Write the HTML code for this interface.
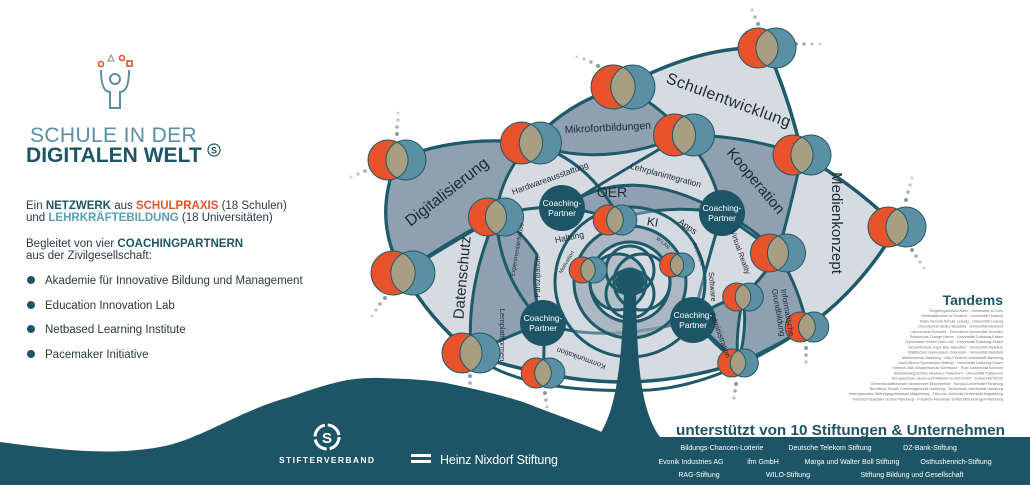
<!DOCTYPE html>
<html><head><meta charset="utf-8"><style>
html,body{margin:0;padding:0;background:#fff;}
body{width:1030px;height:485px;overflow:hidden;font-family:"Liberation Sans",sans-serif;}
</style></head><body>
<svg width="1030" height="485" viewBox="0 0 1030 485" xmlns="http://www.w3.org/2000/svg" font-family="Liberation Sans, sans-serif">
<defs>
<g id="v">
<circle cx="-9" cy="0" r="20" fill="#e8532b" stroke="#1e5a69" stroke-width="1" vector-effect="non-scaling-stroke"/>
<circle cx="9" cy="0" r="20" fill="#5b90a4" stroke="#1e5a69" stroke-width="1" vector-effect="non-scaling-stroke"/>
<path d="M0,-17.9 A20 20 0 0 1 0,17.9 A20 20 0 0 1 0,-17.9Z" fill="#a89e82" stroke="#1e5a69" stroke-width="1" vector-effect="non-scaling-stroke"/>
</g>
<g id="cp">
<circle r="23" fill="#1d5566"/>
<text y="-2" text-anchor="middle" fill="#fff" font-size="8.5">Coaching-</text>
<text y="8" text-anchor="middle" fill="#fff" font-size="8.5">Partner</text>
</g>
</defs>

<!-- logo -->
<g fill="none" stroke="#5a8fa3" stroke-width="2">
<circle cx="115" cy="79" r="5"/>
<path d="M101,70 Q101,92 110,92 L110,108 L120,108 L120,92 Q129,92 129,70"/>
</g>
<g fill="none" stroke="#e8532b" stroke-width="1.6">
<circle cx="101" cy="64" r="2.5"/><circle cx="122" cy="58" r="2.5"/><rect x="127" y="61" width="5" height="5"/>
</g>
<path d="M108,61 L111,55 L114,61Z" fill="none" stroke="#999" stroke-width="1.2"/>

<text x="30" y="142" font-size="21" fill="#5a8fa3" letter-spacing="1.3" textLength="168">SCHULE IN DER</text>
<text x="26" y="162" font-size="21" font-weight="bold" fill="#1d5566" letter-spacing="1.3" textLength="177">DIGITALEN WELT</text>
<circle cx="214" cy="150" r="6" fill="none" stroke="#1d5566" stroke-width="1.2"/>
<text x="214" y="153.5" font-size="9" font-weight="bold" fill="#1d5566" text-anchor="middle">S</text>

<g font-size="11.5" fill="#2a3a40">
<text x="26" y="209">Ein <tspan font-weight="bold" fill="#1d5566">NETZWERK</tspan> aus <tspan font-weight="bold" fill="#e8532b">SCHULPRAXIS</tspan> (18 Schulen)</text>
<text x="26" y="221">und <tspan font-weight="bold" fill="#5a9fb0">LEHRKRÄFTEBILDUNG</tspan> (18 Universitäten)</text>
<text x="26" y="247">Begleitet von vier <tspan font-weight="bold" fill="#1d5566">COACHINGPARTNERN</tspan></text>
<text x="26" y="259">aus der Zivilgesellschaft:</text>
<text x="45" y="284">Akademie für Innovative Bildung und Management</text>
<text x="45" y="309">Education Innovation Lab</text>
<text x="45" y="333">Netbased Learning Institute</text>
<text x="45" y="358">Pacemaker Initiative</text>
</g>
<g fill="#1d5566"><circle cx="31" cy="280" r="4"/><circle cx="31" cy="305" r="4"/><circle cx="31" cy="329" r="4"/><circle cx="31" cy="354" r="4"/></g>

<!-- dots trails -->
<g fill="#8a9aa6">
<circle cx="372" cy="168" r="2"/><circle cx="365" cy="171" r="1.8" opacity=".8"/><circle cx="358" cy="174" r="1.6" opacity=".6"/><circle cx="351" cy="177" r="1.5" opacity=".4"/>
<circle cx="397" cy="134" r="2"/><circle cx="397" cy="127" r="1.8" opacity=".8"/><circle cx="398" cy="120" r="1.6" opacity=".6"/><circle cx="398" cy="113" r="1.5" opacity=".4"/>
<circle cx="385" cy="298" r="2"/><circle cx="380" cy="304" r="1.8" opacity=".8"/><circle cx="376" cy="310" r="1.6" opacity=".6"/><circle cx="372" cy="316" r="1.5" opacity=".4"/>
<circle cx="598" cy="66" r="2"/><circle cx="591" cy="62" r="1.8" opacity=".8"/><circle cx="584" cy="59" r="1.6" opacity=".6"/><circle cx="577" cy="57" r="1.5" opacity=".4"/>
<circle cx="796" cy="44" r="2"/><circle cx="804" cy="44" r="1.8" opacity=".8"/><circle cx="812" cy="44" r="1.6" opacity=".6"/><circle cx="820" cy="44" r="1.5" opacity=".4"/>
<circle cx="758" cy="24" r="2"/><circle cx="755" cy="17" r="1.8" opacity=".7"/><circle cx="752" cy="10" r="1.6" opacity=".5"/>
<circle cx="906" cy="200" r="2"/><circle cx="908" cy="192" r="1.8" opacity=".8"/><circle cx="910" cy="185" r="1.6" opacity=".6"/><circle cx="912" cy="178" r="1.5" opacity=".4"/>
<circle cx="912" cy="250" r="2"/><circle cx="916" cy="256" r="1.8" opacity=".8"/><circle cx="920" cy="262" r="1.6" opacity=".6"/><circle cx="924" cy="268" r="1.5" opacity=".4"/>
<circle cx="806" cy="348" r="2"/><circle cx="806" cy="355" r="1.8" opacity=".8"/><circle cx="806" cy="362" r="1.6" opacity=".6"/>
<circle cx="736" cy="384" r="2"/><circle cx="735" cy="391" r="1.8" opacity=".8"/><circle cx="734" cy="398" r="1.6" opacity=".6"/>
<circle cx="470" cy="376" r="2"/><circle cx="470" cy="383" r="1.8" opacity=".8"/><circle cx="470" cy="390" r="1.6" opacity=".6"/>
<circle cx="545" cy="393" r="2"/><circle cx="546" cy="400" r="1.8" opacity=".8"/><circle cx="547" cy="407" r="1.6" opacity=".6"/>
</g>

<!-- bottom band -->
<path d="M0,442 C60,450 110,456 160,447 C200,440 240,410 290,397 C330,383 350,377 380,378 C410,379 430,380 446,383 C490,392 520,400 536,407 C570,420 600,430 612,437 L1030,437 L1030,485 L0,485 Z" fill="#1d5566"/>

<!-- diagram -->
<path d="M397,160 Q455,135 531,143 Q570,100 623,87 Q700,45 767,48 Q790,100 802,155 Q855,185 897,227 Q860,290 807,327 Q770,350 738,363 Q640,395 543,373 Q500,365 471,353 Q430,320 403,273 Q372,220 397,160 Z" fill="#d5dbe1" stroke="#1e5a69" stroke-width="3.5"/>
<g fill="#8fa1b0" stroke="#1e5a69" stroke-width="3">
<path d="M397,160 Q455,135 531,143 Q500,175 496,217 Q450,240 403,273 Q372,220 397,160Z"/>
<path d="M531,143 Q570,100 623,87 Q660,105 684,135 Q600,170 531,143Z"/>
<path d="M684,135 Q745,135 802,155 Q790,210 778,253 Q750,225 722,213 Q715,170 684,135Z"/>
<path d="M778,253 Q800,290 807,327 Q770,350 738,363 Q748,330 743,297 Q765,275 778,253Z"/>
<path d="M496,217 Q466,285 471,353 Q505,338 543,323 Q530,290 537,255 Q520,228 496,217Z"/>
<path d="M562,208 Q630,160 722,213 Q665,203 615,220 Q590,210 562,208Z"/>
<path d="M693,320 Q720,300 743,297 Q735,335 738,363 Q715,345 693,320Z"/>
</g>
<g fill="none" stroke="#1e5a69" stroke-width="3">
<path d="M496,217 Q530,205 562,208"/>
<path d="M403,273 Q440,250 496,217"/>
<path d="M531,143 Q590,160 620,220"/>
<path d="M684,135 Q640,160 562,208"/>
<path d="M722,213 Q745,230 778,253"/>
<path d="M543,323 Q600,345 693,320"/>
<path d="M543,323 Q545,350 543,373"/>
<path d="M693,320 Q715,340 738,363"/>
<path d="M543,323 Q500,280 496,217"/>
<path d="M722,213 Q705,270 693,320"/>
<path d="M471,353 Q520,395 650,390 Q720,385 807,327"/>
</g>

<!-- center rosette -->
<g stroke="#1e5a69" stroke-width="3">
<circle cx="630" cy="282" r="75" fill="#d5dbe1" fill-opacity=".35"/>
<circle cx="630" cy="282" r="56" fill="#8fa1b0" fill-opacity=".6"/>
<circle cx="630" cy="282" r="40" fill="#d5dbe1"/>
<circle cx="618" cy="282" r="28" fill="#8fa1b0" fill-opacity=".5"/>
<circle cx="642" cy="282" r="28" fill="none"/>
<circle cx="630" cy="270" r="24" fill="none"/>
<circle cx="630" cy="294" r="24" fill="none"/>
<circle cx="630" cy="282" r="13" fill="#1d5566"/>
</g>
<path d="M624,290 L636,290 C637,360 640,410 660,437 L598,437 C617,410 622,360 624,290Z" fill="#1d5566"/>

<use href="#cp" x="562" y="208"/>
<use href="#cp" x="722" y="213"/>
<use href="#cp" x="543" y="323"/>
<use href="#cp" x="693" y="320"/>

<!-- venns -->
<use href="#v" transform="translate(397,160) scale(1.0)"/>
<use href="#v" transform="translate(403,273) scale(1.1)"/>
<use href="#v" transform="translate(623,87) scale(1.1)"/>
<use href="#v" transform="translate(767,48) scale(1.0)"/>
<use href="#v" transform="translate(531,143) scale(1.05)"/>
<use href="#v" transform="translate(684,135) scale(1.05)"/>
<use href="#v" transform="translate(802,155) scale(1.0)"/>
<use href="#v" transform="translate(897,227) scale(1.0)"/>
<use href="#v" transform="translate(496,217) scale(0.95)"/>
<use href="#v" transform="translate(615,220) scale(0.75)"/>
<use href="#v" transform="translate(778,253) scale(0.95)"/>
<use href="#v" transform="translate(588,270) scale(0.65)"/>
<use href="#v" transform="translate(677,265) scale(0.6)"/>
<use href="#v" transform="translate(743,297) scale(0.7)"/>
<use href="#v" transform="translate(807,327) scale(0.75)"/>
<use href="#v" transform="translate(738,363) scale(0.7)"/>
<use href="#v" transform="translate(471,353) scale(1.0)"/>
<use href="#v" transform="translate(543,373) scale(0.75)"/>

<!-- labels -->
<g fill="#1b2a33" text-anchor="middle">
<text font-size="16" letter-spacing="0.5" transform="translate(727,105) rotate(20)">Schulentwicklung</text>
<text font-size="10.5" transform="translate(608,131) rotate(-3)">Mikrofortbildungen</text>
<text font-size="16" transform="translate(450,196) rotate(-38)">Digitalisierung</text>
<text font-size="15" transform="translate(752,184) rotate(50)">Kooperation</text>
<text font-size="15" transform="translate(832,223) rotate(90)">Medienkonzept</text>
<text font-size="15" transform="translate(467,278) rotate(-85)">Datenschutz</text>
<text font-size="8.5" transform="translate(551,181) rotate(-20)">Hardwareausstattung</text>
<text font-size="8.5" transform="translate(665,178) rotate(15)">Lehrplanintegration</text>
<text font-size="14" x="612" y="197">OER</text>
<text font-size="12" transform="translate(652,226) rotate(10)">KI</text>
<text font-size="9" transform="translate(686,229) rotate(35)">Apps</text>
<text font-size="8.5" transform="translate(570,240) rotate(-12)">Haltung</text>
<text font-size="6" transform="translate(519,250) rotate(-80)">Experimentierfreude</text>
<text font-size="7.5" transform="translate(540,277) rotate(-90)">Partizipation</text>
<text font-size="5.5" transform="translate(568,263) rotate(-60)">Motivation</text>
<text font-size="5" transform="translate(662,244) rotate(40)">W-LAN</text>
<text font-size="5" transform="translate(697,255) rotate(70)">Recherche</text>
<text font-size="7.5" transform="translate(738,253) rotate(70)">Virtual Reality</text>
<text font-size="7.5" transform="translate(710,287) rotate(85)">Software</text>
<text font-size="8" transform="translate(785,313) rotate(80)">Informatische</text>
<text font-size="8" transform="translate(776,313) rotate(80)">Grundbildung</text>
<text font-size="7.5" transform="translate(718,336) rotate(70)">Administration</text>
<text font-size="7.5" transform="translate(500,335) rotate(90)">Lernplattformen</text>
<text font-size="7.5" transform="translate(582,356) rotate(200)">Kommunikation</text>
</g>

<!-- tandems -->
<text x="1003" y="305" font-size="14" font-weight="bold" fill="#1d5566" text-anchor="end">Tandems</text>
<g font-size="3.8" fill="#6a737a" text-anchor="end">
<text x="1003" y="312">Vorgebirgsschule Alfter · Universität zu Köln</text>
<text x="1003" y="317.2">Werkstattschule in Rostock · Universität Rostock</text>
<text x="1003" y="322.4">Pablo Neruda Schule Leipzig · Universität Leipzig</text>
<text x="1003" y="327.6">Grundschule Brake Bielefeld · Universität Bielefeld</text>
<text x="1003" y="332.8">Laborschule Dresden · Technische Universität Dresden</text>
<text x="1003" y="338">Realschule Crange Herne · Universität Duisburg-Essen</text>
<text x="1003" y="343.2">Gymnasium Essen Nord-Ost · Universität Duisburg-Essen</text>
<text x="1003" y="348.4">Gesamtschule Aspe Bad Salzuflen · Universität Bielefeld</text>
<text x="1003" y="353.6">Städtisches Gymnasium Gütersloh · Universität Bielefeld</text>
<text x="1003" y="358.8">Marienschule Bamberg · Otto-Friedrich-Universität Bamberg</text>
<text x="1003" y="364">Josef-Albers-Gymnasium Bottrop · Universität Duisburg-Essen</text>
<text x="1003" y="369.2">Heinrich-Böll-Gesamtschule Dortmund · Ruhr-Universität Bochum</text>
<text x="1003" y="374.4">Berufskolleg Schloß Neuhaus Paderborn · Universität Paderborn</text>
<text x="1003" y="379.6">Europaschule Jacob-und-Wilhelm-Grimm Erfurt · Universität Erfurt</text>
<text x="1003" y="384.8">Gemeinschaftsschule Neumünster-Brachenfeld · Europa-Universität Flensburg</text>
<text x="1003" y="390">Berufliche Schule Fahrzeugtechnik Hamburg · Technische Universität Hamburg</text>
<text x="1003" y="395.2">Internationales Stiftungsgymnasium Magdeburg · Otto-von-Guericke Universität Magdeburg</text>
<text x="1003" y="400.4">Friedrich-Staedtler-Schule Nürnberg · Friedrich-Alexander-Universität Erlangen-Nürnberg</text>
</g>

<!-- sponsors -->
<text x="676" y="435" font-size="15" font-weight="bold" fill="#1d5566" textLength="329" lengthAdjust="spacingAndGlyphs">unterstützt von 10 Stiftungen &amp; Unternehmen</text>
<g font-size="7" fill="#fff" text-anchor="middle">
<text x="722" y="450">Bildungs-Chancen-Lotterie</text>
<text x="830" y="450">Deutsche Telekom Stiftung</text>
<text x="930" y="450">DZ-Bank-Stiftung</text>
<text x="691" y="464">Evonik Industries AG</text>
<text x="763" y="464">ifm GmbH</text>
<text x="852" y="464">Marga und Walter Boll Stiftung</text>
<text x="956" y="464">Osthushenrich-Stiftung</text>
<text x="699" y="477">RAG-Stiftung</text>
<text x="788" y="477">WILO-Stiftung</text>
<text x="912" y="477">Stiftung Bildung und Gesellschaft</text>
</g>

<circle cx="327" cy="437" r="12" fill="none" stroke="#fff" stroke-width="3" stroke-dasharray="16 3"/>
<text x="327" y="443" font-size="15" font-weight="bold" fill="#fff" text-anchor="middle">S</text>
<text x="279" y="463" font-size="8.5" font-weight="bold" fill="#fff" letter-spacing="1" textLength="96">STIFTERVERBAND</text>
<rect x="411" y="454" width="20" height="3" fill="#fff"/><rect x="411" y="460" width="20" height="3" fill="#fff"/>
<text x="440" y="464" font-size="12.5" fill="#fff" textLength="118">Heinz Nixdorf Stiftung</text>
</svg>
</body></html>
